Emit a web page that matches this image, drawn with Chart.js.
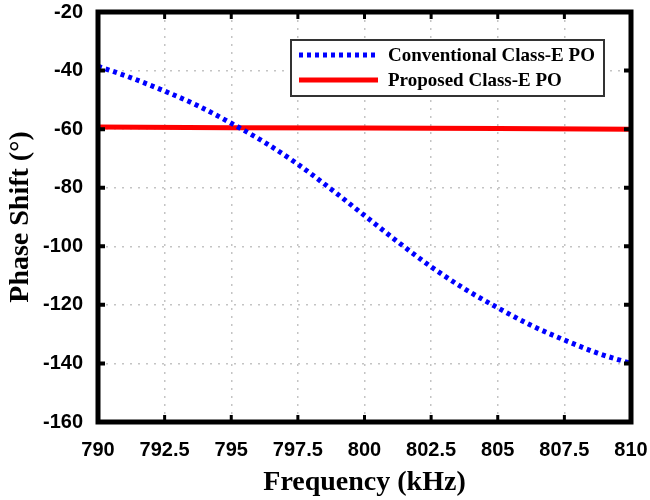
<!DOCTYPE html>
<html>
<head>
<meta charset="utf-8">
<script src="https://cdn.jsdelivr.net/npm/chart.js@4.4.1/dist/chart.umd.min.js"></script>
<style>
  html, body { margin: 0; padding: 0; background: #fff; }
  #wrap { width: 650px; height: 500px; }
</style>
</head>
<body>
<div id="wrap"><canvas id="phaseChart"></canvas></div>
<script>
// frequency axis (kHz) and measured phase shift (degrees)
var freqConv = [790, 791.25, 792.5, 793.75, 795, 796.25, 797.5, 798.75, 800, 801.25, 802.5, 803.75, 805, 806.25, 807.5, 808.75, 810];
var phaseConv = [-38.5, -42.5, -47, -52, -58, -64.5, -72, -80.5, -89.5, -98.5, -107, -114.5, -121, -127, -132, -136.5, -140];
var freqProp = [790, 795, 800, 805, 810];
var phaseProp = [-59.3, -59.5, -59.6, -59.8, -60];
var xTicks = [790, 792.5, 795, 797.5, 800, 802.5, 805, 807.5, 810];
var yTicks = [-160, -140, -120, -100, -80, -60, -40, -20];

function toPoints(xs, ys) {
    return xs.map(function(x, i) { return {x: x, y: ys[i]}; });
}

/**
 * Thick box around the plot, inward tick marks and the legend inside the plot
 */
var framePlugin = {
    id: 'frame',
    afterDraw: function(chart) {
        var ctx = chart.ctx;
        var a = chart.chartArea;
        var xs = chart.scales.x, ys = chart.scales.y;
        ctx.save();
        ctx.strokeStyle = '#000';
        ctx.lineWidth = 3;
        xTicks.forEach(function(v) {
            var px = xs.getPixelForValue(v);
            ctx.beginPath();
            ctx.moveTo(px, a.bottom); ctx.lineTo(px, a.bottom - 7);
            ctx.moveTo(px, a.top); ctx.lineTo(px, a.top + 7);
            ctx.stroke();
        });
        ctx.lineWidth = 4;
        yTicks.forEach(function(v) {
            var py = ys.getPixelForValue(v);
            ctx.beginPath();
            ctx.moveTo(a.left, py); ctx.lineTo(a.left + 7, py);
            ctx.moveTo(a.right, py); ctx.lineTo(a.right - 7, py);
            ctx.stroke();
        });
        ctx.lineWidth = 5;
        ctx.strokeRect(a.left, a.top, a.right - a.left, a.bottom - a.top);

        // legend
        var lx = 291, ly = 40, lw = 313, lh = 56;
        ctx.fillStyle = '#fff';
        ctx.fillRect(lx, ly, lw, lh);
        ctx.lineWidth = 2;
        ctx.strokeStyle = '#333';
        ctx.strokeRect(lx, ly, lw, lh);
        ctx.font = 'bold 19px "Liberation Serif", serif';
        ctx.textBaseline = 'middle';
        chart.data.datasets.forEach(function(ds, i) {
            var yy = ly + 15 + i * 25;
            ctx.beginPath();
            ctx.strokeStyle = ds.borderColor;
            ctx.lineWidth = ds.borderWidth;
            ctx.setLineDash(ds.borderDash || []);
            ctx.moveTo(lx + 8, yy);
            ctx.lineTo(lx + 87, yy);
            ctx.stroke();
            ctx.setLineDash([]);
            ctx.fillStyle = '#000';
            ctx.fillText(ds.label, lx + 97, yy + 1);
        });
        ctx.restore();
    }
};

var gridOpts = {
    color: '#c4c4c4',
    lineWidth: 1.5,
    drawTicks: false
};

new Chart(document.getElementById('phaseChart').getContext('2d'), {
    type: 'scatter',
    data: {
        datasets: [
            {
                label: 'Conventional Class-E PO',
                data: toPoints(freqConv, phaseConv),
                showLine: true,
                borderColor: '#0000ff',
                borderWidth: 5,
                borderDash: [4, 4],
                pointRadius: 0,
                cubicInterpolationMode: 'monotone'
            },
            {
                label: 'Proposed Class-E PO',
                data: toPoints(freqProp, phaseProp),
                showLine: true,
                borderColor: '#ff0000',
                borderWidth: 5,
                pointRadius: 0
            }
        ]
    },
    options: {
        responsive: true,
        maintainAspectRatio: false,
        animation: false,
        layout: { padding: { top: 12, right: 19, left: 0, bottom: 0 } },
        plugins: {
            legend: { display: false },
            tooltip: { enabled: false }
        },
        scales: {
            x: {
                type: 'linear',
                min: 790,
                max: 810,
                afterBuildTicks: function(s) { s.ticks = xTicks.map(function(v) { return {value: v}; }); },
                afterFit: function(s) { s.height = 78; s.paddingLeft = 0; s.paddingRight = 0; },
                grid: gridOpts,
                border: { display: false, dash: [2, 6] },
                ticks: {
                    color: '#000',
                    padding: 16,
                    maxRotation: 0,
                    font: { family: '"Liberation Sans", Arial, sans-serif', size: 20, weight: 'bold' }
                },
                title: {
                    display: true,
                    text: 'Frequency (kHz)',
                    color: '#000',
                    padding: { top: 0, bottom: 0 },
                    font: { family: '"Liberation Serif", serif', size: 28, weight: 'bold' }
                }
            },
            y: {
                min: -160,
                max: -20,
                afterBuildTicks: function(s) { s.ticks = yTicks.map(function(v) { return {value: v}; }); },
                afterFit: function(s) { s.width = 98; s.paddingTop = 0; s.paddingBottom = 0; },
                grid: gridOpts,
                border: { display: false, dash: [2, 6] },
                ticks: {
                    color: '#000',
                    padding: 15,
                    font: { family: '"Liberation Sans", Arial, sans-serif', size: 20, weight: 'bold' }
                },
                title: {
                    display: true,
                    text: 'Phase Shift (°)',
                    color: '#000',
                    padding: { bottom: 0 },
                    font: { family: '"Liberation Serif", serif', size: 28, weight: 'bold' }
                }
            }
        }
    },
    plugins: [framePlugin]
});
</script>
</body>
</html>
